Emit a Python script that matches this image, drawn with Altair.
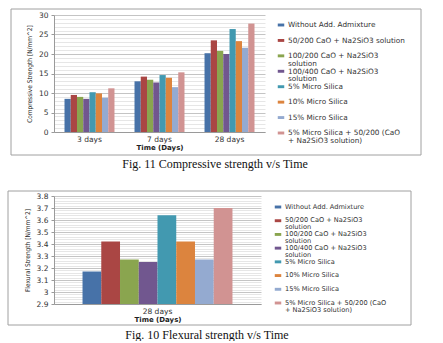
import altair as alt
import pandas as pd

series = [
    "Without Add. Admixture",
    "50/200 CaO + Na2SiO3 solution",
    "100/200 CaO + Na2SiO3 solution",
    "100/400 CaO + Na2SiO3 solution",
    "5% Micro Silica",
    "10% Micro Silica",
    "15% Micro Silica",
    "5% Micro Silica + 50/200 (CaO + Na2SiO3 solution)",
]
colors = ["#4772A8", "#AA4644", "#8AA54F", "#71578F", "#4299B0", "#DC843E", "#94AAD0", "#D19392"]

times = ["3 days", "7 days", "28 days"]
comp_3 = [8.5, 9.5, 9.0, 8.5, 10.2, 9.9, 8.8, 11.2]
comp_7 = [13.0, 14.2, 13.4, 12.7, 14.6, 13.9, 11.5, 15.3]
comp_28 = [20.2, 23.5, 20.8, 20.0, 26.4, 23.3, 21.6, 27.8]

flex_times = ["28 days"]
flex_28 = [3.17, 3.42, 3.27, 3.25, 3.64, 3.42, 3.27, 3.70]

legend_top = [
    "Without Add. Admixture",
    "50/200 CaO + Na2SiO3 solution",
    "100/200 CaO + Na2SiO3\nsolution",
    "100/400 CaO + Na2SiO3\nsolution",
    "5% Micro Silica",
    "10% Micro Silica",
    "15% Micro Silica",
    "5% Micro Silica + 50/200 (CaO\n+ Na2SiO3 solution)",
]
legend_bottom = [
    "Without Add. Admixture",
    "50/200 CaO + Na2SiO3\nsolution",
    "100/200 CaO + Na2SiO3\nsolution",
    "100/400 CaO + Na2SiO3\nsolution",
    "5% Micro Silica",
    "10% Micro Silica",
    "15% Micro Silica",
    "5% Micro Silica + 50/200 (CaO\n+ Na2SiO3 solution)",
]

comp_ticks = list(range(0, 31))
flex_ticks = [round(2.9 + 0.02 * i, 2) for i in range(46)]

SANS = "DejaVu Sans"
NARROW = "Liberation Sans Narrow, DejaVu Sans Condensed, sans-serif"
SERIF = "Liberation Serif, Times New Roman, serif"

color_scale = alt.Scale(domain=series, range=colors)


def panel(df, tlist, ydomain, yzero, yticks, major_test, label_expr, ytitle,
          w, h, xpad_in, xpad_out, leg_labels, leg_range, leg_x, leg_fs, leg_lh,
          frame_box, caption, cap_xy):
    bars = alt.Chart(df).mark_bar(clip=True).encode(
        x=alt.X("time:N", sort=tlist,
                scale=alt.Scale(paddingInner=xpad_in, paddingOuter=xpad_out),
                axis=alt.Axis(title="Time (Days)", labelAngle=0, ticks=False,
                              labelPadding=3, titlePadding=1, labelFontSize=7.5,
                              titleFontSize=7, titleFontWeight="bold",
                              labelFont=SANS, titleFont=SANS,
                              labelColor="#333", titleColor="#222",
                              domainColor="#9a9a9a", grid=False)),
        xOffset=alt.XOffset("series:N", sort=series,
                            scale=alt.Scale(paddingInner=0, paddingOuter=0)),
        y=alt.Y("value:Q",
                scale=alt.Scale(domain=ydomain, nice=False, zero=yzero),
                axis=alt.Axis(values=yticks, title=ytitle,
                              labelExpr=label_expr, labelOverlap=False,
                              labelFontSize=7.5, labelFont=SANS, labelColor="#333",
                              titleFont=NARROW, titleFontSize=6.5,
                              titleFontWeight="normal", titleColor="#222",
                              titlePadding=6, labelPadding=3, tickSize=3,
                              domainColor="#9a9a9a",
                              tickColor={"condition": {"test": major_test, "value": "#9a9a9a"},
                                         "value": "transparent"},
                              gridColor={"condition": {"test": major_test, "value": "#c4c4c4"},
                                         "value": "#e6e6e6"})),
        color=alt.Color("series:N", scale=color_scale, legend=None),
    )

    leg_df = pd.DataFrame({"series": series, "label": leg_labels, "idx": list(range(len(series)))})
    ly = alt.Y("idx:O", scale=alt.Scale(type="point", range=leg_range, padding=0), axis=None)
    sym = alt.Chart(leg_df).mark_point(
        shape="M-1,-0.45H1V0.45H-1Z", filled=True, size=42, opacity=1
    ).encode(x=alt.value(leg_x), y=ly,
             color=alt.Color("series:N", scale=color_scale, legend=None))
    txt = alt.Chart(leg_df).mark_text(
        align="left", baseline="top", dy=-leg_fs / 2, lineBreak="\n", lineHeight=leg_lh,
        fontSize=leg_fs, font=SANS, color="#333"
    ).encode(x=alt.value(leg_x + 7), y=ly, text="label:N")

    x0, x1, y0, y1 = frame_box
    frame = alt.Chart(pd.DataFrame({"k": [0]})).mark_rect(
        fillOpacity=0, stroke="#a0a0a0", strokeWidth=1
    ).encode(x=alt.value(x0), x2=alt.value(x1), y=alt.value(y0), y2=alt.value(y1))

    cap = alt.Chart(pd.DataFrame({"c": [caption]})).mark_text(
        font=SERIF, fontSize=12, color="#111", baseline="middle", align="center"
    ).encode(x=alt.value(cap_xy[0]), y=alt.value(cap_xy[1]), text="c:N")

    return alt.layer(frame, bars, sym, txt, cap).resolve_scale(y="independent").properties(
        width=w, height=h)


top_df = pd.DataFrame({
    "time": [t for t in times for _ in series],
    "series": series * len(times),
    "value": comp_3 + comp_7 + comp_28,
})
bot_df = pd.DataFrame({
    "time": [t for t in flex_times for _ in series],
    "series": series,
    "value": flex_28,
})

top = panel(top_df, times, [0, 30], True, comp_ticks,
            "datum.value % 5 == 0",
            "datum.value % 5 == 0 ? datum.label : ''",
            "Compressive Strength [N/mm^2]",
            211, 117, 0.286, 0.15, legend_top, [10, 118], 227, 7.3, 7.8,
            (-43, 367, -6, 140), "Fig. 11 Compressive strength v/s Time", (161, 149))

major_b = "abs(datum.value * 10 - round(datum.value * 10)) < 0.001"
bottom = panel(bot_df, flex_times, [2.9, 3.8], False, flex_ticks,
               major_b,
               major_b + " ? format(datum.value, '~g') : ''",
               "Flexural Strength [N/mm^2]",
               207, 108, 0.28, 0.137, legend_bottom, [11, 107], 224, 6.6, 6.9,
               (-46, 357, -5, 129), "Fig. 10 Flexural strength v/s Time", (153, 139))

chart = alt.vconcat(top, bottom, spacing=20).resolve_scale(
    x="independent", xOffset="independent", y="independent"
).configure_view(stroke=None).properties(
    padding={"left": 7, "top": 8, "right": 0, "bottom": 0},
    background="white",
)

chart.save("out.html", embed_options={"renderer": "svg", "actions": False})
